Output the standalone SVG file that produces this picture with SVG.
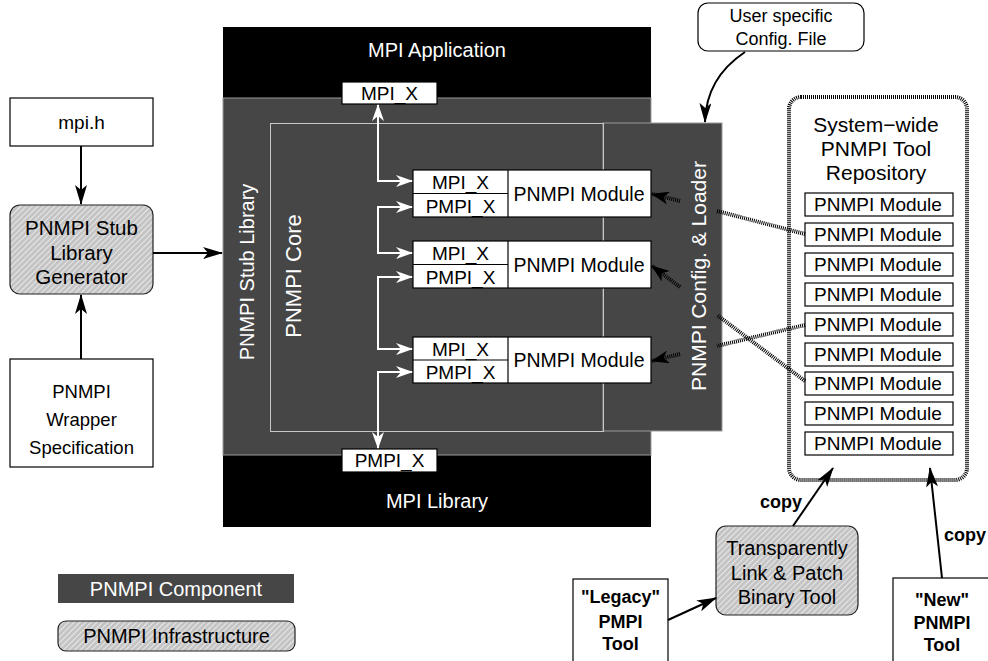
<svg xmlns="http://www.w3.org/2000/svg" width="988" height="661" viewBox="0 0 988 661">
<defs>
<style>
text{font-family:"Liberation Sans",Arial,Helvetica,sans-serif;fill:#000}
.c{text-anchor:middle}
.w{fill:#fff}
.b{font-weight:bold}
.box{fill:#fff;stroke:#000;stroke-width:1.2}
.gray{fill:#464646;stroke:#9a9a9a;stroke-width:1}
.infra{fill:url(#hatch);stroke:#222;stroke-width:1.2}
.arr{fill:none;stroke:#000;stroke-width:2}
.warr{fill:none;stroke:#fff;stroke-width:2}
.hat{fill:none;stroke:#000;stroke-width:4;stroke-dasharray:1 1}
</style>
<pattern id="hatch" width="4" height="4" patternUnits="userSpaceOnUse" patternTransform="rotate(-45)">
<rect width="4" height="4" fill="#c4c4c4"/>
<line x1="0" y1="0.5" x2="4" y2="0.5" stroke="#e8e8e8" stroke-width="1"/>
</pattern>
<marker id="ah" markerWidth="20" markerHeight="12" refX="19" refY="6" orient="auto-start-reverse" markerUnits="userSpaceOnUse">
<path d="M0,0 L20,6 L0,12 L5,6 z" fill="#000"/>
</marker>
<marker id="wh" markerWidth="17" markerHeight="12" refX="16" refY="6" orient="auto-start-reverse" markerUnits="userSpaceOnUse">
<path d="M0,0 L17,6 L0,12 L5,6 z" fill="#fff"/>
</marker>
<marker id="hh" markerWidth="18" markerHeight="13" refX="17" refY="6.5" orient="auto" markerUnits="userSpaceOnUse">
<path d="M0,0 L18,6.5 L0,13 L5,6.5 z" fill="#000"/>
</marker>
</defs>
<rect width="988" height="661" fill="#fff"/>

<g id="mpi-app">
<rect x="223" y="27" width="428" height="72" fill="#000"/>
<text class="c w" x="437" y="57" font-size="20">MPI Application</text>
</g>
<g id="mpi-lib">
<rect x="223" y="455" width="428" height="72" fill="#000"/>
<text class="c w" x="437" y="508" font-size="20">MPI Library</text>
</g>
<g id="stub-library">
<rect class="gray" x="223" y="98" width="428" height="357"/>
<text class="c w" font-size="20" transform="translate(254,272) rotate(-90)">PNMPI Stub Library</text>
</g>
<g id="config-loader">
<rect class="gray" x="603" y="123" width="119" height="308"/>
<text class="c w" font-size="21" transform="translate(706,276) rotate(-90)">PNMPI Config. &amp; Loader</text>
</g>
<g id="core">
<rect x="270.5" y="123.5" width="333" height="308" fill="none" stroke="#c8c8c8" stroke-width="1"/>
<text class="c w" font-size="22" transform="translate(301,276) rotate(-90)">PNMPI Core</text>
</g>
<g id="mpi-x-top">
<rect class="box" x="342" y="82" width="95" height="22"/>
<text class="c" x="389.5" y="100" font-size="19">MPI_X</text>
</g>
<g id="pmpi-x-bottom">
<rect class="box" x="342" y="449" width="95" height="23"/>
<text class="c" x="389.5" y="467" font-size="19">PMPI_X</text>
</g>

<g id="module-1">
<rect class="box" x="413" y="170" width="238" height="47"/>
<line x1="413" y1="193.5" x2="508" y2="193.5" stroke="#000" stroke-width="1.2"/>
<line x1="508" y1="170" x2="508" y2="217" stroke="#000" stroke-width="1.2"/>
<text class="c" x="460.5" y="189" font-size="19">MPI_X</text>
<text class="c" x="460.5" y="213" font-size="19">PMPI_X</text>
<text class="c" x="579" y="200.5" font-size="19.5">PNMPI Module</text>
</g>
<g id="module-2">
<rect class="box" x="413" y="241" width="238" height="47"/>
<line x1="413" y1="264.5" x2="508" y2="264.5" stroke="#000" stroke-width="1.2"/>
<line x1="508" y1="241" x2="508" y2="288" stroke="#000" stroke-width="1.2"/>
<text class="c" x="460.5" y="260" font-size="19">MPI_X</text>
<text class="c" x="460.5" y="284" font-size="19">PMPI_X</text>
<text class="c" x="579" y="271.5" font-size="19.5">PNMPI Module</text>
</g>
<g id="module-3">
<rect class="box" x="413" y="337" width="238" height="46"/>
<line x1="413" y1="360" x2="508" y2="360" stroke="#000" stroke-width="1.2"/>
<line x1="508" y1="337" x2="508" y2="383" stroke="#000" stroke-width="1.2"/>
<text class="c" x="460.5" y="355.5" font-size="19">MPI_X</text>
<text class="c" x="460.5" y="379" font-size="19">PMPI_X</text>
<text class="c" x="579" y="367" font-size="19.5">PNMPI Module</text>
</g>

<g id="mpi-h">
<rect class="box" x="10" y="98" width="143" height="48"/>
<text class="c" x="81.5" y="129" font-size="19">mpi.h</text>
</g>
<g id="stub-generator">
<rect class="infra" x="10" y="205" width="143" height="89" rx="10"/>
<text class="c" x="81.5" y="235" font-size="20.5">PNMPI Stub</text>
<text class="c" x="81.5" y="260" font-size="20.5">Library</text>
<text class="c" x="81.5" y="284" font-size="20.5">Generator</text>
</g>
<g id="wrapper-spec">
<rect class="box" x="10" y="359" width="143" height="108"/>
<text class="c" x="81.5" y="398" font-size="18.5">PNMPI</text>
<text class="c" x="81.5" y="426" font-size="18.5">Wrapper</text>
<text class="c" x="81.5" y="454" font-size="18.5">Specification</text>
</g>

<g id="user-config">
<rect class="box" x="698" y="3" width="166" height="48" rx="10"/>
<text class="c" x="781" y="22" font-size="18">User specific</text>
<text class="c" x="781" y="45" font-size="18">Config. File</text>
</g>

<g id="repository">
<rect x="789" y="97" width="178" height="383" rx="12" fill="none" stroke="#000" stroke-width="4" stroke-dasharray="1 1"/>
<text class="c" x="876" y="132" font-size="21">System−wide</text>
<text class="c" x="876" y="156" font-size="21">PNMPI Tool</text>
<text class="c" x="876" y="180" font-size="21">Repository</text>
<g font-size="19">
<rect class="box" x="805" y="193" width="148" height="23"/><text class="c" x="878" y="211">PNMPI Module</text>
<rect class="box" x="805" y="223" width="148" height="23"/><text class="c" x="878" y="241">PNMPI Module</text>
<rect class="box" x="805" y="253" width="148" height="23"/><text class="c" x="878" y="271">PNMPI Module</text>
<rect class="box" x="805" y="283" width="148" height="23"/><text class="c" x="878" y="301">PNMPI Module</text>
<rect class="box" x="805" y="313" width="148" height="23"/><text class="c" x="878" y="331">PNMPI Module</text>
<rect class="box" x="805" y="343" width="148" height="23"/><text class="c" x="878" y="361">PNMPI Module</text>
<rect class="box" x="805" y="372" width="148" height="23"/><text class="c" x="878" y="390">PNMPI Module</text>
<rect class="box" x="805" y="402" width="148" height="23"/><text class="c" x="878" y="420">PNMPI Module</text>
<rect class="box" x="805" y="432" width="148" height="23"/><text class="c" x="878" y="450">PNMPI Module</text>
</g>
</g>

<g id="transparent-link">
<rect class="infra" x="716" y="526" width="142" height="89" rx="10"/>
<text class="c" x="787" y="555" font-size="20">Transparently</text>
<text class="c" x="787" y="580" font-size="20">Link &amp; Patch</text>
<text class="c" x="787" y="604" font-size="20">Binary Tool</text>
</g>
<g id="legacy-tool">
<rect class="box" x="573" y="579" width="95" height="90"/>
<text class="c b" x="620.5" y="603" font-size="18">"Legacy"</text>
<text class="c b" x="620.5" y="628" font-size="18">PMPI</text>
<text class="c b" x="620.5" y="650" font-size="18">Tool</text>
</g>
<g id="new-tool">
<rect class="box" x="893" y="578" width="100" height="90"/>
<text class="c b" x="942" y="606" font-size="18">"New"</text>
<text class="c b" x="942" y="629" font-size="18">PNMPI</text>
<text class="c b" x="942" y="651" font-size="18">Tool</text>
</g>

<g id="legend">
<g id="legend-component">
<rect x="58" y="574" width="236" height="29" fill="#464646"/>
<text class="c w" x="176" y="596" font-size="20">PNMPI Component</text>
</g>
<g id="legend-infrastructure">
<rect class="infra" x="58" y="621" width="237" height="30" rx="8"/>
<text class="c" x="176.5" y="643" font-size="20">PNMPI Infrastructure</text>
</g>
</g>

<g id="connectors">
<path class="warr" d="M378,105 V181 H412" marker-start="url(#wh)" marker-end="url(#wh)"/>
<path class="warr" d="M412,207 H378 V253 H412" marker-start="url(#wh)" marker-end="url(#wh)"/>
<path class="warr" d="M412,277 H378 V349 H412" marker-start="url(#wh)" marker-end="url(#wh)"/>
<path class="warr" d="M412,372 H378 V448" marker-start="url(#wh)" marker-end="url(#wh)"/>

<path class="arr" d="M81,146 V204" marker-end="url(#ah)"/>
<path class="arr" d="M81,359 V295" marker-end="url(#ah)"/>
<path class="arr" d="M153,253 H222" marker-end="url(#ah)"/>
<path class="arr" d="M745,52 Q706,78 705,122" marker-end="url(#ah)"/>

<line class="hat" x1="805" y1="234" x2="717" y2="211"/>
<line class="hat" x1="680" y1="201" x2="652" y2="194" marker-end="url(#hh)"/>
<line class="hat" x1="805" y1="381" x2="717" y2="315"/>
<line class="hat" x1="680" y1="287" x2="652" y2="266" marker-end="url(#hh)"/>
<line class="hat" x1="805" y1="325" x2="717" y2="346"/>
<line class="hat" x1="680" y1="354" x2="652" y2="361" marker-end="url(#hh)"/>

<path class="arr" d="M668,620 L716,598" marker-end="url(#ah)"/>
<path class="arr" d="M793,526 L833,468" marker-end="url(#ah)"/>
<path class="arr" d="M942,578 L930,468" marker-end="url(#ah)"/>
<text class="c b" x="781" y="508" font-size="18">copy</text>
<text class="c b" x="965" y="541" font-size="18">copy</text>
</g>
</svg>
